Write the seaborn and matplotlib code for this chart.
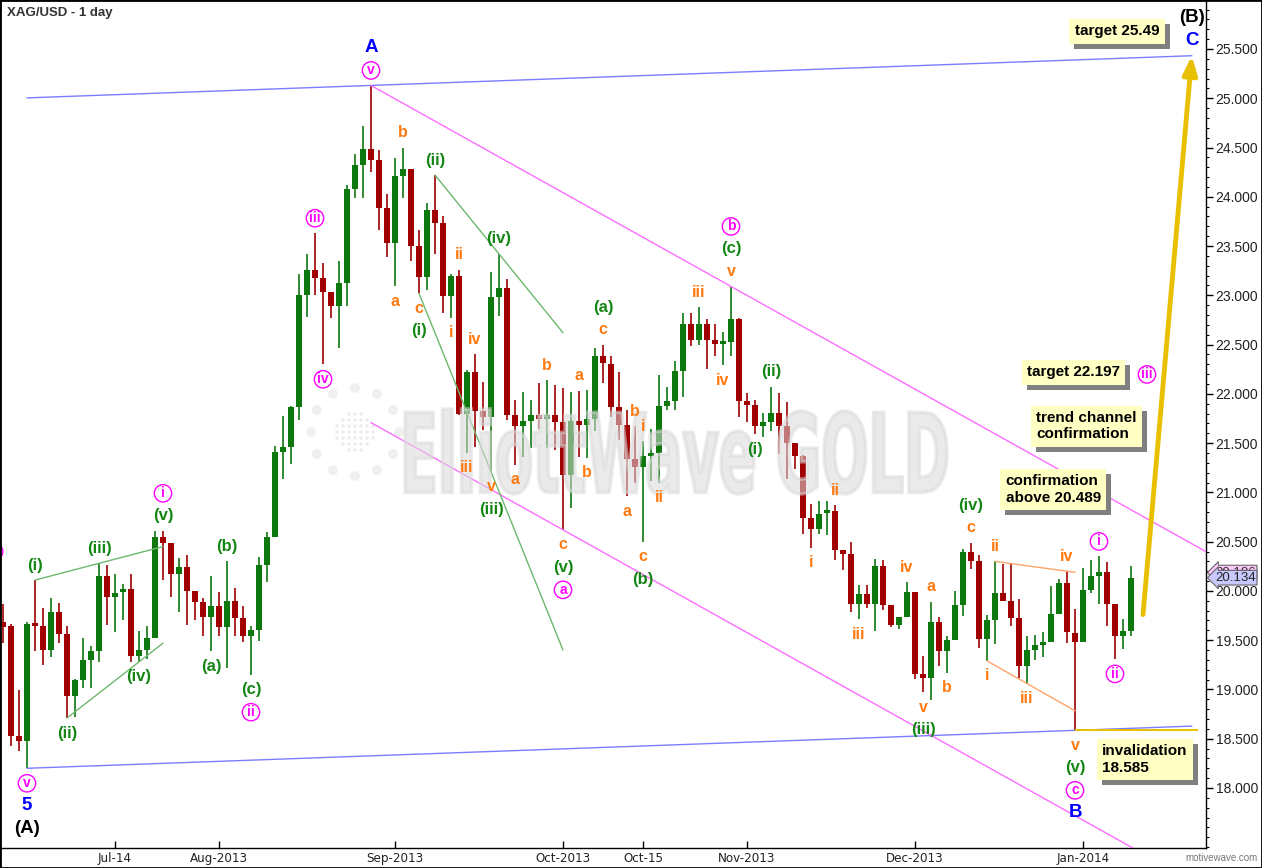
import numpy as np
import pandas as pd
import matplotlib
matplotlib.use("Agg")
import matplotlib.pyplot as plt
import seaborn as sns
from matplotlib import transforms
from matplotlib import patheffects as pe
from matplotlib.patches import PathPatch, Rectangle, Circle
from matplotlib.textpath import TextPath
from matplotlib.font_manager import FontProperties
from matplotlib.ticker import FixedLocator, MultipleLocator, FormatStrFormatter

# ---------------- data: daily XAG/USD candles ----------------
opens = [19.685, 19.644, 18.53, 18.48, 19.66, 19.64, 19.40, 19.79, 19.56, 18.93,
         19.10, 19.30, 19.39, 20.15, 19.94, 19.99, 20.02, 19.34, 19.40, 19.52,
         20.55, 20.49, 20.17, 20.24, 20.00, 19.89, 19.74, 19.85, 19.63, 19.90,
         19.73, 19.54, 19.60, 20.26, 20.55, 21.41, 21.46, 21.87, 23.00, 23.26,
         23.18, 23.03, 22.89, 23.13, 24.08, 24.32, 24.48, 24.37, 23.89, 23.53,
         24.21, 24.28, 23.50, 23.19, 23.87, 23.73, 22.99, 23.20, 21.80, 22.22,
         21.83, 21.76, 22.98, 23.07, 21.79, 21.67, 21.72, 21.79, 21.74, 21.79,
         21.71, 21.18, 21.72, 21.68, 21.74, 22.38, 22.30, 21.87, 21.68, 21.34,
         21.26, 21.37, 21.40, 21.88, 21.93, 22.23, 22.71, 22.55, 22.71, 22.55,
         22.51, 22.53, 22.76, 21.93, 21.89, 21.67, 21.71, 21.81, 21.67, 21.50,
         21.37, 20.74, 20.63, 20.79, 20.81, 20.42, 20.37, 19.87, 19.97, 19.87,
         20.25, 19.86, 19.65, 19.74, 19.99, 19.16, 19.12, 19.68, 19.39, 19.50,
         19.86, 20.40, 20.30, 19.51, 19.70, 19.98, 19.90, 19.73, 19.24, 19.40,
         19.45, 19.48, 19.77, 20.08, 19.57, 19.48, 20.01, 20.15, 20.19, 19.87,
         19.54, 19.59]
highs = [19.867, 19.66, 18.99, 19.68, 20.11, 19.83, 19.93, 19.88, 19.64, 19.11,
         19.52, 19.44, 20.28, 20.26, 20.17, 20.07, 20.17, 19.59, 19.64, 20.61,
         20.61, 20.49, 20.33, 20.36, 20.00, 19.93, 20.15, 19.99, 20.30, 20.03,
         19.85, 19.64, 20.34, 20.60, 21.47, 21.78, 21.88, 23.22, 23.42, 23.63,
         23.33, 23.03, 23.35, 24.12, 24.43, 24.72, 25.13, 24.47, 24.03, 24.39,
         24.50, 24.28, 23.66, 23.94, 24.22, 23.80, 23.22, 23.26, 22.24, 22.40,
         22.12, 23.24, 23.42, 23.17, 21.94, 22.02, 21.94, 22.11, 22.14, 22.09,
         22.06, 22.02, 22.03, 22.04, 22.47, 22.50, 22.38, 22.22, 21.84, 21.67,
         21.52, 21.64, 22.19, 22.07, 22.33, 22.82, 22.82, 22.88, 22.76, 22.71,
         22.63, 23.09, 22.77, 22.01, 21.94, 21.81, 22.07, 22.01, 21.92, 21.50,
         21.38, 20.88, 20.91, 20.91, 20.87, 20.42, 20.50, 20.06, 20.06, 20.32,
         20.31, 19.86, 19.74, 20.09, 19.99, 19.34, 19.89, 19.74, 19.54, 20.00,
         20.43, 20.49, 20.36, 19.76, 20.30, 20.27, 20.27, 19.92, 19.54, 19.55,
         19.58, 20.05, 20.12, 20.20, 19.82, 20.23, 20.31, 20.35, 20.29, 19.87,
         19.72, 20.25]
lows = [19.47, 18.43, 18.38, 18.20, 19.39, 19.25, 19.33, 19.47, 18.71, 18.72,
        19.01, 19.01, 19.28, 19.65, 19.58, 19.70, 19.28, 19.28, 19.31, 19.52,
        20.11, 19.94, 19.79, 19.65, 19.70, 19.54, 19.39, 19.54, 19.22, 19.54,
        19.48, 19.15, 19.49, 20.09, 20.55, 21.14, 21.29, 21.73, 22.78, 23.00,
        22.30, 22.77, 22.47, 22.89, 23.99, 23.99, 24.25, 23.66, 23.39, 23.09,
        23.99, 23.35, 23.02, 23.05, 23.42, 22.82, 22.77, 21.79, 21.40, 21.46,
        21.63, 21.21, 22.79, 21.73, 21.28, 21.36, 21.45, 21.64, 21.45, 21.43,
        20.62, 20.84, 21.36, 21.35, 21.62, 22.11, 21.77, 21.53, 20.96, 21.10,
        20.50, 21.12, 21.10, 21.84, 21.84, 21.97, 22.49, 22.50, 22.25, 22.38,
        22.29, 22.38, 21.76, 21.71, 21.59, 21.56, 21.62, 21.39, 21.14, 21.24,
        20.58, 20.44, 20.58, 20.57, 20.31, 20.21, 19.79, 19.71, 19.83, 19.59,
        19.81, 19.63, 19.61, 19.74, 19.11, 18.97, 18.89, 19.24, 19.17, 19.50,
        19.75, 20.22, 19.42, 19.29, 19.46, 19.90, 19.64, 19.12, 19.06, 19.30,
        19.33, 19.48, 19.77, 19.47, 18.585, 19.48, 19.98, 19.87, 19.64, 19.31,
        19.41, 19.54]
closes = [19.635, 18.53, 18.48, 19.66, 19.64, 19.40, 19.79, 19.56, 18.93, 19.10,
          19.30, 19.39, 20.15, 19.94, 19.98, 20.02, 19.34, 19.40, 19.52, 20.55,
          20.49, 20.17, 20.24, 20.00, 19.89, 19.74, 19.85, 19.63, 19.90, 19.73,
          19.54, 19.60, 20.26, 20.55, 21.41, 21.46, 21.87, 23.00, 23.26, 23.18,
          23.03, 22.89, 23.13, 24.08, 24.32, 24.48, 24.37, 23.89, 23.53, 24.21,
          24.28, 23.50, 23.19, 23.87, 23.73, 22.99, 23.20, 21.80, 22.22, 21.83,
          21.76, 22.98, 23.07, 21.79, 21.67, 21.72, 21.79, 21.74, 21.79, 21.71,
          21.18, 21.72, 21.68, 21.74, 22.38, 22.31, 21.87, 21.68, 21.34, 21.26,
          21.37, 21.40, 21.88, 21.93, 22.23, 22.71, 22.55, 22.71, 22.55, 22.51,
          22.53, 22.76, 21.93, 21.89, 21.67, 21.71, 21.81, 21.67, 21.50, 21.37,
          20.74, 20.63, 20.78, 20.81, 20.42, 20.37, 19.87, 19.97, 19.87, 20.25,
          19.86, 19.65, 19.74, 19.99, 19.16, 19.12, 19.68, 19.39, 19.50, 19.86,
          20.40, 20.30, 19.51, 19.70, 19.98, 19.90, 19.73, 19.24, 19.40, 19.45,
          19.48, 19.77, 20.08, 19.58, 19.48, 20.01, 20.15, 20.19, 19.87, 19.54,
          19.59, 20.134]

# date axis: bar number of each labelled tick
tick_bars = [14, 27, 49, 70, 80, 93, 114, 135]
tick_labels = ["Jul-14", "Aug-2013", "Sep-2013", "Oct-2013", "Oct-15",
               "Nov-2013", "Dec-2013", "Jan-2014"]
price_ticks = [18.0, 18.5, 19.0, 19.5, 20.0, 20.5, 21.0, 21.5, 22.0,
               22.5, 23.0, 23.5, 24.0, 24.5, 25.0, 25.5]

# wave counts: (bar, side of candle, labels from nearest outward as (text, degree))
wave_labels = [
    (3, "below", [("v", "minor"), ("5", "primary"), ("(A)", "intermediate")]),
    (4, "above", [("(i)", "minute")]),
    (8, "below", [("(ii)", "minute")]),
    (12, "above", [("(iii)", "minute")]),
    (17, "below", [("(iv)", "minute")]),
    (20, "above", [("(v)", "minute"), ("i", "minor")]),
    (26, "below", [("(a)", "minute")]),
    (28, "above", [("(b)", "minute")]),
    (31, "below", [("(c)", "minute"), ("ii", "minor")]),
    (39, "above", [("iii", "minor")]),
    (40, "below", [("iv", "minor")]),
    (46, "above", [("v", "minor"), ("A", "primary")]),
    (49, "below", [("a", "minuette")]),
    (50, "above", [("b", "minuette")]),
    (52, "below", [("c", "minuette"), ("(i)", "minute")]),
    (54, "above", [("(ii)", "minute")]),
    (56, "below", [("i", "minuette")]),
    (57, "above", [("ii", "minuette")]),
    (58, "below", [("iii", "minuette")]),
    (59, "above", [("iv", "minuette")]),
    (61, "below", [("v", "minuette"), ("(iii)", "minute")]),
    (62, "above", [("(iv)", "minute")]),
    (64, "below", [("a", "minuette")]),
    (68, "above", [("b", "minuette")]),
    (70, "below", [("c", "minuette"), ("(v)", "minute"), ("a", "minor")]),
    (72, "above", [("a", "minuette")]),
    (73, "below", [("b", "minuette")]),
    (75, "above", [("c", "minuette"), ("(a)", "minute")]),
    (78, "below", [("a", "minuette")]),
    (79, "above", [("b", "minuette")]),
    (80, "above", [("i", "minuette")]),
    (80, "below", [("c", "minuette"), ("(b)", "minute")]),
    (82, "below", [("ii", "minuette")]),
    (87, "above", [("iii", "minuette")]),
    (90, "below", [("iv", "minuette")]),
    (91, "above", [("v", "minuette"), ("(c)", "minute"), ("b", "minor")]),
    (94, "below", [("(i)", "minute")]),
    (96, "above", [("(ii)", "minute")]),
    (101, "below", [("i", "minuette")]),
    (104, "above", [("ii", "minuette")]),
    (107, "below", [("iii", "minuette")]),
    (113, "above", [("iv", "minuette")]),
    (115, "below", [("v", "minuette"), ("(iii)", "minute")]),
    (116, "above", [("a", "minuette")]),
    (118, "below", [("b", "minuette")]),
    (121, "above", [("c", "minuette"), ("(iv)", "minute")]),
    (123, "below", [("i", "minuette")]),
    (124, "above", [("ii", "minuette")]),
    (128, "below", [("iii", "minuette")]),
    (133, "above", [("iv", "minuette")]),
    (134, "below", [("v", "minuette"), ("(v)", "minute"), ("c", "minor"), ("B", "primary")]),
    (137, "above", [("i", "minor")]),
    (139, "below", [("ii", "minor")]),
]

target_c = 25.49
target_iii = 22.197
confirm_level = 20.489
invalid_level = 18.585
last_price = 20.134
prev_price = 20.186

# ---------------- frame ----------------
df = pd.DataFrame({"open": opens, "high": highs, "low": lows, "close": closes})
df["bar"] = np.arange(len(df))
df["up"] = df["close"] >= df["open"]

sns.set_theme(style="white")
plt.rcParams["font.family"] = ["Liberation Sans", "DejaVu Sans"]

W, H = 1262, 868
fig = plt.figure(figsize=(W / 100, H / 100), dpi=100)
fig.patch.set_facecolor("white")
ax = fig.add_axes([0, 20 / H, 1206 / W, 848 / H])
ax.set_facecolor("white")

RED, GREEN = "#a00000", "#0e780e"
cols = np.where(df["up"], GREEN, RED)

# candles
ax.vlines(df["bar"], df["low"], df["high"], colors=cols, lw=1.2, zorder=2)
body = (df["close"] - df["open"]).abs().clip(lower=0.03)
ax.bar(df["bar"], body, bottom=df[["open", "close"]].min(axis=1), width=0.82,
       color=cols, lw=0, zorder=3)


# ---------------- trend lines ----------------
def through(b1, p1, b2, p2, start, end):
    s = (p2 - p1) / (b2 - b1)
    return [(start, p1 + s * (start - b1)), (end, p1 + s * (end - b1))]


blue_slope = (lows[134] - lows[3]) / (134 - 3)
mag_slope = (highs[91] - highs[46]) / (91 - 46)
trend_lines = {
    "blue_low": through(3, lows[3], 134, lows[134], 3, 148.6),
    "blue_up": through(46, highs[46], 47, highs[46] + blue_slope, 3, 148.6),
    "mag_up": through(46, highs[46], 91, highs[91], 46, 151),
    "mag_low": through(70, lows[70], 71, lows[70] + mag_slope, 46, 151),
    "g1_up": through(4, highs[4], 12, highs[12], 4, 20),
    "g1_low": through(8, lows[8], 17, lows[17], 8, 20),
    "g2_up": through(54, highs[54], 62, highs[62], 54, 70),
    "g2_low": through(52, lows[52], 61, lows[61], 52, 70),
    "o_up": through(124, highs[124], 133, highs[133], 124, 134),
    "o_low": through(123, lows[123], 128, lows[128], 123, 134),
}
line_colors = {"blue_low": "#7c7cff", "blue_up": "#7c7cff",
               "mag_up": "#ff6cff", "mag_low": "#ff6cff",
               "g1_up": "#6cb86c", "g1_low": "#6cb86c",
               "g2_up": "#6cb86c", "g2_low": "#6cb86c",
               "o_up": "#ffa468", "o_low": "#ffa468"}
seg = pd.DataFrame([dict(line=k, bar=b, price=p)
                    for k, pts in trend_lines.items() for b, p in pts])
sns.lineplot(data=seg, x="bar", y="price", hue="line", units="line",
             estimator=None, sort=False, palette=line_colors, legend=False,
             lw=1.0, ax=ax, zorder=4)

# invalidation level and projection arrow
ax.hlines(invalid_level, 134, 149.4, color="#e8c000", lw=1.4, zorder=4)
tip = trend_lines["blue_up"][1]
ax.annotate("", xy=tip, xytext=(142.5, 19.76),
            arrowprops=dict(arrowstyle="-|>,head_length=0.9,head_width=0.35",
                            color="#e8c000", lw=3.5, shrinkA=0, shrinkB=0),
            zorder=5)

# ---------------- watermark ----------------
fp = FontProperties(family="DejaVu Sans", weight="bold", stretch="condensed")
tp = TextPath((0, 0), "ElliottWave GOLD", size=100, prop=fp)
ext = tp.get_extents()
tr = (transforms.Affine2D().translate(-ext.x0, -ext.y0)
      .scale(542 / ext.width, 85 / ext.height).translate(405, H - 494))
wm = PathPatch(tp, transform=tr, fc="#dadada", ec="#dadada", lw=2.5,
               alpha=0.55, zorder=5)
ax.add_artist(wm)
cx, cy = 355, H - 432
for a in np.arange(0, 360, 30):
    ax.add_artist(Circle((cx + 44 * np.cos(np.radians(a)), cy + 44 * np.sin(np.radians(a))),
                         5, transform=transforms.IdentityTransform(),
                         fc="#f0f0f0", ec="none", zorder=1))
for gx in np.arange(-18, 19, 6):
    for gy in np.arange(-18, 19, 6):
        if gx * gx + gy * gy <= 20 * 20:
            ax.add_artist(Circle((cx + gx, cy + gy), 1.8,
                                 transform=transforms.IdentityTransform(),
                                 fc="#ededed", ec="none", zorder=1))

# ---------------- wave labels ----------------
degree_style = {
    "primary": dict(color="#0000ff", fontsize=13.5),
    "intermediate": dict(color="black", fontsize=13.5),
    "minor": dict(color="#ff00ff", fontsize=10),
    "minute": dict(color="#138613", fontsize=12),
    "minuette": dict(color="#ff7a10", fontsize=11.5),
}


def put_label(x, y, text, degree, offset):
    st = degree_style[degree]
    bbox = None
    if degree == "minor":
        bbox = dict(boxstyle="circle,pad=0.12", fc="white", ec="#ff00ff", lw=1)
    ax.annotate(text, (x, y), xytext=(0, offset), textcoords="offset pixels",
                ha="center", va="center", fontweight="bold", color=st["color"],
                fontsize=st["fontsize"], bbox=bbox, zorder=7,
                annotation_clip=False)


for bar, side, stack in wave_labels:
    sign = 1 if side == "above" else -1
    y = highs[bar] if side == "above" else lows[bar]
    for k, (text, degree) in enumerate(stack):
        put_label(bar, y, text, degree, sign * (15 + 22.5 * k))

# projected labels
put_label(143, target_iii, "iii", "minor", 0)
for k, (text, degree) in enumerate([("C", "primary"), ("(B)", "intermediate")]):
    put_label(tip[0], tip[1], text, degree, 15 + 23 * k)
ax.text(-1.1, 20.40, "iv", ha="center", va="center", fontsize=10, fontweight="bold",
        color="#ff00ff", clip_on=True, zorder=7,
        bbox=dict(boxstyle="circle,pad=0.12", fc="white", ec="#ff00ff", lw=1))


# ---------------- notes (yellow boxes with a grey drop shadow) ----------------
def note(x, y, text):
    t = ax.text(x, y, text, ha="center", va="center", fontsize=11,
                fontweight="bold", multialignment="left", color="black", zorder=9,
                bbox=dict(boxstyle="square,pad=0.35", fc="#ffffc4", ec="none"))
    t.get_bbox_patch().set_path_effects(
        [pe.SimplePatchShadow(offset=(3.6, -3.6), shadow_rgbFace="#808080", alpha=1.0),
         pe.Normal()])


note(139.25, 25.68, f"target {target_c:.2f}")
note(133.8, 22.22, f"target {target_iii:.3f}")
note(135.4, 21.67, "trend channel\nconfirmation")
note(131.3, 21.03, f"confirmation\nabove {confirm_level:.3f}")
note(142.7, 18.29, f"invalidation\n{invalid_level:.3f}")

# ---------------- axes ----------------
ax.set_xlim(-0.375, 150.375)
ax.set_ylim(17.391, 25.997)
ax.set_xlabel("")
ax.set_ylabel("")
ax.yaxis.tick_right()
ax.yaxis.set_major_locator(FixedLocator(price_ticks))
ax.yaxis.set_minor_locator(MultipleLocator(0.1))
ax.yaxis.set_major_formatter(FormatStrFormatter("%.3f"))
ax.tick_params(axis="y", which="major", direction="out", length=5, width=1,
               color="black", labelsize=10, labelcolor="#222222", pad=2, right=True)
ax.tick_params(axis="y", which="minor", direction="out", length=2.5, width=0.8,
               color="black", right=True)
ax.set_xticks(tick_bars)
ax.set_xticklabels(tick_labels)
ax.tick_params(axis="x", direction="in", length=5, width=1, color="black",
               labelsize=9.5, labelcolor="#222222", pad=3, bottom=True)
for lbl in ax.get_xticklabels():
    lbl.set_fontfamily("DejaVu Sans")
    lbl.set_fontstretch("condensed")
for sp in ax.spines.values():
    sp.set_color("black")
    sp.set_linewidth(1)
ax.grid(False)

trans = transforms.blended_transform_factory(ax.transAxes, ax.transData)
ax.text(1.0075, prev_price, f"{prev_price:.3f}", transform=trans, ha="left", va="center",
        fontsize=9.5, color="#333333", clip_on=False, zorder=10,
        bbox=dict(boxstyle="larrow,pad=0.1", fc="#ffc8ff", ec="#666666", lw=0.8))
ax.text(1.0075, last_price, f"{last_price:.3f}", transform=trans, ha="left", va="center",
        fontsize=9.5, color="#222222", clip_on=False, zorder=11,
        bbox=dict(boxstyle="larrow,pad=0.1", fc="#c8c8ff", ec="#666666", lw=0.8))

fig.text(7 / W, 1 - 13 / H, "XAG/USD - 1 day", ha="left", va="center",
         fontsize=9.5, fontweight="bold", color="#333333")
fig.text(1258 / W, 1 - 858 / H, "motivewave.com", ha="right", va="center",
         fontsize=7, color="#777777")
fig.patches.append(Rectangle((0, 0), 1, 1, transform=fig.transFigure, fill=False,
                             ec="black", lw=2, zorder=20))

fig.savefig("out.png", dpi=100)
